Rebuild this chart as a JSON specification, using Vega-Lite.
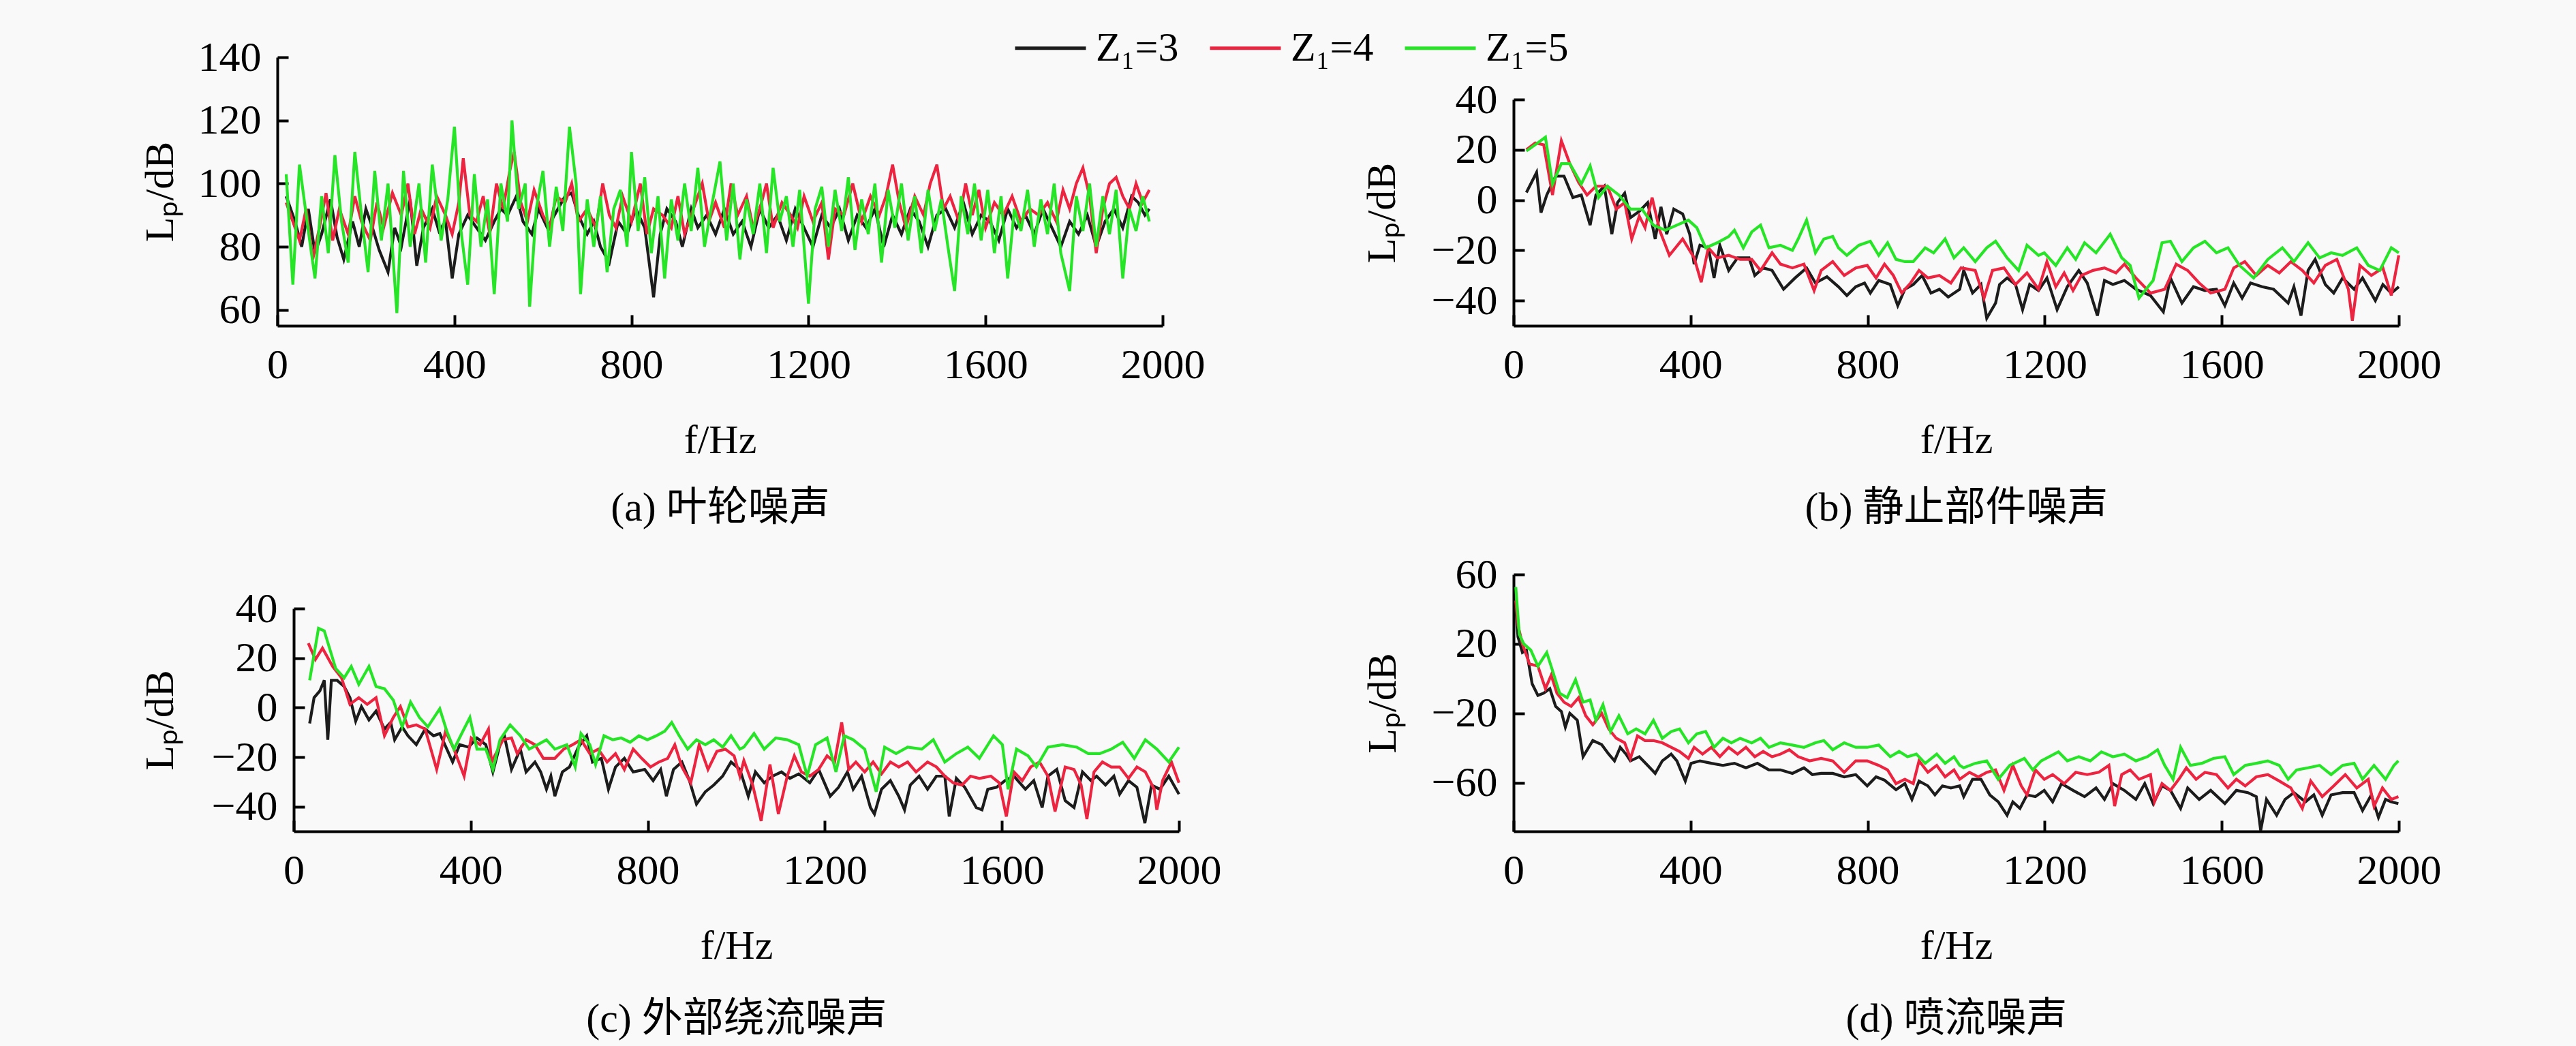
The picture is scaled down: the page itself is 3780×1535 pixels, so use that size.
{
  "$schema": "https://vega.github.io/schema/vega-lite/v6.json",
  "width": 3780,
  "height": 1535,
  "autosize": {"type": "none"},
  "padding": 0,
  "background": "#f9f9f9",
  "data": {
    "values": [
      {"p":"a","s":3,"f":20,"v":96},{"p":"a","s":3,"f":40,"v":88},{"p":"a","s":3,"f":55,"v":80},{"p":"a","s":3,"f":70,"v":92},{"p":"a","s":3,"f":85,"v":78},{"p":"a","s":3,"f":100,"v":84},{"p":"a","s":3,"f":120,"v":95},{"p":"a","s":3,"f":135,"v":83},{"p":"a","s":3,"f":150,"v":76},{"p":"a","s":3,"f":170,"v":88},
      {"p":"a","s":3,"f":185,"v":80},{"p":"a","s":3,"f":200,"v":92},{"p":"a","s":3,"f":215,"v":86},{"p":"a","s":3,"f":230,"v":79},{"p":"a","s":3,"f":250,"v":72},{"p":"a","s":3,"f":265,"v":86},{"p":"a","s":3,"f":280,"v":80},{"p":"a","s":3,"f":300,"v":95},{"p":"a","s":3,"f":315,"v":74},{"p":"a","s":3,"f":330,"v":86},
      {"p":"a","s":3,"f":350,"v":92},{"p":"a","s":3,"f":365,"v":85},{"p":"a","s":3,"f":380,"v":88},{"p":"a","s":3,"f":395,"v":70},{"p":"a","s":3,"f":410,"v":84},{"p":"a","s":3,"f":430,"v":90},{"p":"a","s":3,"f":450,"v":86},{"p":"a","s":3,"f":470,"v":82},{"p":"a","s":3,"f":490,"v":88},{"p":"a","s":3,"f":505,"v":92},
      {"p":"a","s":3,"f":520,"v":90},{"p":"a","s":3,"f":540,"v":96},{"p":"a","s":3,"f":555,"v":88},{"p":"a","s":3,"f":575,"v":84},{"p":"a","s":3,"f":590,"v":92},{"p":"a","s":3,"f":610,"v":86},{"p":"a","s":3,"f":630,"v":91},{"p":"a","s":3,"f":650,"v":96},{"p":"a","s":3,"f":665,"v":97},{"p":"a","s":3,"f":680,"v":90},
      {"p":"a","s":3,"f":700,"v":84},{"p":"a","s":3,"f":715,"v":88},{"p":"a","s":3,"f":730,"v":80},{"p":"a","s":3,"f":750,"v":75},{"p":"a","s":3,"f":770,"v":88},{"p":"a","s":3,"f":790,"v":84},{"p":"a","s":3,"f":810,"v":92},{"p":"a","s":3,"f":830,"v":86},{"p":"a","s":3,"f":850,"v":64},{"p":"a","s":3,"f":865,"v":84},
      {"p":"a","s":3,"f":880,"v":92},{"p":"a","s":3,"f":900,"v":88},{"p":"a","s":3,"f":915,"v":80},{"p":"a","s":3,"f":935,"v":92},{"p":"a","s":3,"f":950,"v":86},{"p":"a","s":3,"f":970,"v":90},{"p":"a","s":3,"f":990,"v":84},{"p":"a","s":3,"f":1010,"v":92},{"p":"a","s":3,"f":1030,"v":84},{"p":"a","s":3,"f":1050,"v":88},
      {"p":"a","s":3,"f":1070,"v":80},{"p":"a","s":3,"f":1090,"v":92},{"p":"a","s":3,"f":1110,"v":86},{"p":"a","s":3,"f":1130,"v":90},{"p":"a","s":3,"f":1150,"v":82},{"p":"a","s":3,"f":1170,"v":92},{"p":"a","s":3,"f":1190,"v":86},{"p":"a","s":3,"f":1210,"v":80},{"p":"a","s":3,"f":1230,"v":90},{"p":"a","s":3,"f":1250,"v":86},
      {"p":"a","s":3,"f":1270,"v":92},{"p":"a","s":3,"f":1290,"v":82},{"p":"a","s":3,"f":1310,"v":90},{"p":"a","s":3,"f":1330,"v":86},{"p":"a","s":3,"f":1350,"v":92},{"p":"a","s":3,"f":1370,"v":80},{"p":"a","s":3,"f":1390,"v":90},{"p":"a","s":3,"f":1410,"v":84},{"p":"a","s":3,"f":1430,"v":92},{"p":"a","s":3,"f":1450,"v":88},
      {"p":"a","s":3,"f":1470,"v":80},{"p":"a","s":3,"f":1490,"v":90},{"p":"a","s":3,"f":1510,"v":92},{"p":"a","s":3,"f":1530,"v":86},{"p":"a","s":3,"f":1550,"v":94},{"p":"a","s":3,"f":1570,"v":84},{"p":"a","s":3,"f":1590,"v":90},{"p":"a","s":3,"f":1610,"v":88},{"p":"a","s":3,"f":1630,"v":82},{"p":"a","s":3,"f":1650,"v":92},
      {"p":"a","s":3,"f":1670,"v":86},{"p":"a","s":3,"f":1690,"v":90},{"p":"a","s":3,"f":1710,"v":84},{"p":"a","s":3,"f":1730,"v":92},{"p":"a","s":3,"f":1750,"v":86},{"p":"a","s":3,"f":1770,"v":80},{"p":"a","s":3,"f":1790,"v":88},{"p":"a","s":3,"f":1810,"v":84},{"p":"a","s":3,"f":1830,"v":90},{"p":"a","s":3,"f":1850,"v":80},
      {"p":"a","s":3,"f":1870,"v":88},{"p":"a","s":3,"f":1890,"v":92},{"p":"a","s":3,"f":1910,"v":86},{"p":"a","s":3,"f":1930,"v":96},{"p":"a","s":3,"f":1945,"v":94},{"p":"a","s":3,"f":1960,"v":90},{"p":"a","s":3,"f":1970,"v":92},

      {"p":"a","s":4,"f":20,"v":94},{"p":"a","s":4,"f":35,"v":88},{"p":"a","s":4,"f":50,"v":82},{"p":"a","s":4,"f":65,"v":92},{"p":"a","s":4,"f":80,"v":76},{"p":"a","s":4,"f":95,"v":86},{"p":"a","s":4,"f":110,"v":97},{"p":"a","s":4,"f":125,"v":82},{"p":"a","s":4,"f":140,"v":92},{"p":"a","s":4,"f":160,"v":84},
      {"p":"a","s":4,"f":175,"v":96},{"p":"a","s":4,"f":190,"v":88},{"p":"a","s":4,"f":210,"v":82},{"p":"a","s":4,"f":225,"v":94},{"p":"a","s":4,"f":240,"v":86},{"p":"a","s":4,"f":260,"v":97},{"p":"a","s":4,"f":280,"v":90},{"p":"a","s":4,"f":295,"v":100},{"p":"a","s":4,"f":310,"v":84},{"p":"a","s":4,"f":325,"v":92},
      {"p":"a","s":4,"f":345,"v":86},{"p":"a","s":4,"f":360,"v":96},{"p":"a","s":4,"f":380,"v":90},{"p":"a","s":4,"f":395,"v":84},{"p":"a","s":4,"f":410,"v":94},{"p":"a","s":4,"f":420,"v":108},{"p":"a","s":4,"f":435,"v":90},{"p":"a","s":4,"f":450,"v":88},{"p":"a","s":4,"f":465,"v":96},{"p":"a","s":4,"f":480,"v":84},
      {"p":"a","s":4,"f":495,"v":100},{"p":"a","s":4,"f":510,"v":92},{"p":"a","s":4,"f":525,"v":104},{"p":"a","s":4,"f":535,"v":110},{"p":"a","s":4,"f":550,"v":94},{"p":"a","s":4,"f":565,"v":88},{"p":"a","s":4,"f":580,"v":98},{"p":"a","s":4,"f":600,"v":90},{"p":"a","s":4,"f":615,"v":86},{"p":"a","s":4,"f":630,"v":96},
      {"p":"a","s":4,"f":650,"v":94},{"p":"a","s":4,"f":665,"v":100},{"p":"a","s":4,"f":680,"v":88},{"p":"a","s":4,"f":700,"v":92},{"p":"a","s":4,"f":720,"v":86},{"p":"a","s":4,"f":735,"v":100},{"p":"a","s":4,"f":750,"v":90},{"p":"a","s":4,"f":765,"v":86},{"p":"a","s":4,"f":780,"v":96},{"p":"a","s":4,"f":800,"v":88},
      {"p":"a","s":4,"f":820,"v":100},{"p":"a","s":4,"f":835,"v":84},{"p":"a","s":4,"f":850,"v":92},{"p":"a","s":4,"f":870,"v":90},{"p":"a","s":4,"f":890,"v":86},{"p":"a","s":4,"f":905,"v":96},{"p":"a","s":4,"f":920,"v":84},{"p":"a","s":4,"f":940,"v":92},{"p":"a","s":4,"f":960,"v":100},{"p":"a","s":4,"f":975,"v":88},
      {"p":"a","s":4,"f":990,"v":94},{"p":"a","s":4,"f":1010,"v":86},{"p":"a","s":4,"f":1025,"v":100},{"p":"a","s":4,"f":1040,"v":90},{"p":"a","s":4,"f":1060,"v":96},{"p":"a","s":4,"f":1075,"v":86},{"p":"a","s":4,"f":1090,"v":92},{"p":"a","s":4,"f":1105,"v":100},{"p":"a","s":4,"f":1120,"v":86},{"p":"a","s":4,"f":1140,"v":94},
      {"p":"a","s":4,"f":1160,"v":90},{"p":"a","s":4,"f":1175,"v":86},{"p":"a","s":4,"f":1190,"v":96},{"p":"a","s":4,"f":1210,"v":88},{"p":"a","s":4,"f":1230,"v":94},{"p":"a","s":4,"f":1245,"v":76},{"p":"a","s":4,"f":1260,"v":92},{"p":"a","s":4,"f":1280,"v":90},{"p":"a","s":4,"f":1300,"v":100},{"p":"a","s":4,"f":1320,"v":88},
      {"p":"a","s":4,"f":1340,"v":96},{"p":"a","s":4,"f":1360,"v":90},{"p":"a","s":4,"f":1375,"v":96},{"p":"a","s":4,"f":1390,"v":106},{"p":"a","s":4,"f":1405,"v":94},{"p":"a","s":4,"f":1420,"v":86},{"p":"a","s":4,"f":1440,"v":96},{"p":"a","s":4,"f":1460,"v":90},{"p":"a","s":4,"f":1475,"v":100},{"p":"a","s":4,"f":1490,"v":106},
      {"p":"a","s":4,"f":1505,"v":92},{"p":"a","s":4,"f":1520,"v":96},{"p":"a","s":4,"f":1540,"v":88},{"p":"a","s":4,"f":1555,"v":100},{"p":"a","s":4,"f":1570,"v":90},{"p":"a","s":4,"f":1585,"v":98},{"p":"a","s":4,"f":1600,"v":86},{"p":"a","s":4,"f":1620,"v":94},{"p":"a","s":4,"f":1640,"v":90},{"p":"a","s":4,"f":1660,"v":96},
      {"p":"a","s":4,"f":1680,"v":88},{"p":"a","s":4,"f":1700,"v":92},{"p":"a","s":4,"f":1720,"v":90},{"p":"a","s":4,"f":1740,"v":94},{"p":"a","s":4,"f":1760,"v":88},{"p":"a","s":4,"f":1775,"v":98},{"p":"a","s":4,"f":1790,"v":92},{"p":"a","s":4,"f":1805,"v":100},{"p":"a","s":4,"f":1820,"v":105},{"p":"a","s":4,"f":1835,"v":96},
      {"p":"a","s":4,"f":1850,"v":78},{"p":"a","s":4,"f":1865,"v":92},{"p":"a","s":4,"f":1880,"v":100},{"p":"a","s":4,"f":1895,"v":102},{"p":"a","s":4,"f":1910,"v":96},{"p":"a","s":4,"f":1925,"v":92},{"p":"a","s":4,"f":1940,"v":100},{"p":"a","s":4,"f":1955,"v":94},{"p":"a","s":4,"f":1970,"v":98},

      {"p":"a","s":5,"f":20,"v":103},{"p":"a","s":5,"f":35,"v":68},{"p":"a","s":5,"f":50,"v":106},{"p":"a","s":5,"f":70,"v":85},{"p":"a","s":5,"f":85,"v":70},{"p":"a","s":5,"f":100,"v":96},{"p":"a","s":5,"f":115,"v":78},{"p":"a","s":5,"f":130,"v":109},{"p":"a","s":5,"f":145,"v":88},{"p":"a","s":5,"f":160,"v":75},
      {"p":"a","s":5,"f":175,"v":110},{"p":"a","s":5,"f":190,"v":90},{"p":"a","s":5,"f":205,"v":72},{"p":"a","s":5,"f":220,"v":104},{"p":"a","s":5,"f":235,"v":82},{"p":"a","s":5,"f":250,"v":100},{"p":"a","s":5,"f":270,"v":59},{"p":"a","s":5,"f":285,"v":104},{"p":"a","s":5,"f":300,"v":80},{"p":"a","s":5,"f":320,"v":100},
      {"p":"a","s":5,"f":335,"v":75},{"p":"a","s":5,"f":350,"v":106},{"p":"a","s":5,"f":370,"v":82},{"p":"a","s":5,"f":385,"v":95},{"p":"a","s":5,"f":400,"v":118},{"p":"a","s":5,"f":415,"v":85},{"p":"a","s":5,"f":430,"v":68},{"p":"a","s":5,"f":445,"v":103},{"p":"a","s":5,"f":460,"v":80},{"p":"a","s":5,"f":475,"v":95},
      {"p":"a","s":5,"f":490,"v":65},{"p":"a","s":5,"f":505,"v":100},{"p":"a","s":5,"f":520,"v":88},{"p":"a","s":5,"f":530,"v":120},{"p":"a","s":5,"f":545,"v":92},{"p":"a","s":5,"f":560,"v":100},{"p":"a","s":5,"f":570,"v":61},{"p":"a","s":5,"f":585,"v":92},{"p":"a","s":5,"f":600,"v":104},{"p":"a","s":5,"f":615,"v":80},
      {"p":"a","s":5,"f":630,"v":99},{"p":"a","s":5,"f":645,"v":85},{"p":"a","s":5,"f":660,"v":118},{"p":"a","s":5,"f":675,"v":100},{"p":"a","s":5,"f":685,"v":65},{"p":"a","s":5,"f":700,"v":95},{"p":"a","s":5,"f":715,"v":80},{"p":"a","s":5,"f":730,"v":96},{"p":"a","s":5,"f":745,"v":72},{"p":"a","s":5,"f":760,"v":92},
      {"p":"a","s":5,"f":775,"v":98},{"p":"a","s":5,"f":790,"v":80},{"p":"a","s":5,"f":800,"v":110},{"p":"a","s":5,"f":815,"v":85},{"p":"a","s":5,"f":830,"v":102},{"p":"a","s":5,"f":845,"v":78},{"p":"a","s":5,"f":860,"v":96},{"p":"a","s":5,"f":875,"v":70},{"p":"a","s":5,"f":890,"v":95},{"p":"a","s":5,"f":905,"v":82},
      {"p":"a","s":5,"f":920,"v":100},{"p":"a","s":5,"f":935,"v":85},{"p":"a","s":5,"f":950,"v":105},{"p":"a","s":5,"f":965,"v":80},{"p":"a","s":5,"f":980,"v":92},{"p":"a","s":5,"f":1000,"v":107},{"p":"a","s":5,"f":1015,"v":82},{"p":"a","s":5,"f":1030,"v":100},{"p":"a","s":5,"f":1045,"v":76},{"p":"a","s":5,"f":1060,"v":95},
      {"p":"a","s":5,"f":1075,"v":84},{"p":"a","s":5,"f":1090,"v":100},{"p":"a","s":5,"f":1105,"v":78},{"p":"a","s":5,"f":1120,"v":105},{"p":"a","s":5,"f":1135,"v":88},{"p":"a","s":5,"f":1150,"v":96},{"p":"a","s":5,"f":1165,"v":80},{"p":"a","s":5,"f":1180,"v":98},{"p":"a","s":5,"f":1200,"v":62},{"p":"a","s":5,"f":1215,"v":92},
      {"p":"a","s":5,"f":1230,"v":99},{"p":"a","s":5,"f":1245,"v":80},{"p":"a","s":5,"f":1260,"v":98},{"p":"a","s":5,"f":1275,"v":85},{"p":"a","s":5,"f":1290,"v":102},{"p":"a","s":5,"f":1305,"v":79},{"p":"a","s":5,"f":1320,"v":95},{"p":"a","s":5,"f":1335,"v":84},{"p":"a","s":5,"f":1350,"v":100},{"p":"a","s":5,"f":1365,"v":75},
      {"p":"a","s":5,"f":1380,"v":98},{"p":"a","s":5,"f":1395,"v":86},{"p":"a","s":5,"f":1410,"v":100},{"p":"a","s":5,"f":1425,"v":82},{"p":"a","s":5,"f":1440,"v":96},{"p":"a","s":5,"f":1455,"v":78},{"p":"a","s":5,"f":1470,"v":98},{"p":"a","s":5,"f":1485,"v":85},{"p":"a","s":5,"f":1500,"v":95},{"p":"a","s":5,"f":1515,"v":80},
      {"p":"a","s":5,"f":1530,"v":66},{"p":"a","s":5,"f":1545,"v":96},{"p":"a","s":5,"f":1560,"v":84},{"p":"a","s":5,"f":1575,"v":100},{"p":"a","s":5,"f":1590,"v":82},{"p":"a","s":5,"f":1605,"v":98},{"p":"a","s":5,"f":1620,"v":78},{"p":"a","s":5,"f":1635,"v":96},{"p":"a","s":5,"f":1650,"v":70},{"p":"a","s":5,"f":1665,"v":92},
      {"p":"a","s":5,"f":1680,"v":85},{"p":"a","s":5,"f":1695,"v":98},{"p":"a","s":5,"f":1710,"v":80},{"p":"a","s":5,"f":1725,"v":95},{"p":"a","s":5,"f":1740,"v":84},{"p":"a","s":5,"f":1755,"v":100},{"p":"a","s":5,"f":1770,"v":78},{"p":"a","s":5,"f":1790,"v":66},{"p":"a","s":5,"f":1805,"v":96},{"p":"a","s":5,"f":1820,"v":85},
      {"p":"a","s":5,"f":1835,"v":100},{"p":"a","s":5,"f":1850,"v":80},{"p":"a","s":5,"f":1865,"v":96},{"p":"a","s":5,"f":1880,"v":84},{"p":"a","s":5,"f":1895,"v":98},{"p":"a","s":5,"f":1910,"v":70},{"p":"a","s":5,"f":1925,"v":92},{"p":"a","s":5,"f":1940,"v":85},{"p":"a","s":5,"f":1955,"v":96},{"p":"a","s":5,"f":1970,"v":88},

      {"p":"b","s":3,"f":29,"v":3},{"p":"b","s":3,"f":52,"v":11},{"p":"b","s":3,"f":62,"v":-5},{"p":"b","s":3,"f":75,"v":2},{"p":"b","s":3,"f":95,"v":9.5},{"p":"b","s":3,"f":114,"v":9.5},{"p":"b","s":3,"f":134,"v":1},{"p":"b","s":3,"f":153,"v":2},{"p":"b","s":3,"f":173,"v":-10},{"p":"b","s":3,"f":186,"v":2},
      {"p":"b","s":3,"f":205,"v":5.5},{"p":"b","s":3,"f":222,"v":-13.6},{"p":"b","s":3,"f":235,"v":-1},{"p":"b","s":3,"f":251,"v":2.7},{"p":"b","s":3,"f":264,"v":-7},{"p":"b","s":3,"f":284,"v":-4.5},{"p":"b","s":3,"f":303,"v":-1},{"p":"b","s":3,"f":320,"v":-15.5},{"p":"b","s":3,"f":333,"v":-2.7},{"p":"b","s":3,"f":346,"v":-13.6},
      {"p":"b","s":3,"f":362,"v":-3.6},{"p":"b","s":3,"f":382,"v":-5.5},{"p":"b","s":3,"f":398,"v":-13.6},{"p":"b","s":3,"f":408,"v":-25.5},{"p":"b","s":3,"f":421,"v":-18},{"p":"b","s":3,"f":440,"v":-19},{"p":"b","s":3,"f":453,"v":-31},{"p":"b","s":3,"f":466,"v":-18},{"p":"b","s":3,"f":486,"v":-28},{"p":"b","s":3,"f":506,"v":-23},
      {"p":"b","s":3,"f":532,"v":-23},{"p":"b","s":3,"f":545,"v":-30},{"p":"b","s":3,"f":564,"v":-27},{"p":"b","s":3,"f":584,"v":-28},{"p":"b","s":3,"f":610,"v":-35.5},{"p":"b","s":3,"f":636,"v":-31},{"p":"b","s":3,"f":662,"v":-27},{"p":"b","s":3,"f":682,"v":-33},{"p":"b","s":3,"f":708,"v":-30.5},{"p":"b","s":3,"f":734,"v":-34.5},
      {"p":"b","s":3,"f":753,"v":-38},{"p":"b","s":3,"f":773,"v":-34.5},{"p":"b","s":3,"f":793,"v":-33},{"p":"b","s":3,"f":806,"v":-37},{"p":"b","s":3,"f":825,"v":-32},{"p":"b","s":3,"f":851,"v":-33.6},{"p":"b","s":3,"f":868,"v":-42},{"p":"b","s":3,"f":884,"v":-35.5},{"p":"b","s":3,"f":903,"v":-33.6},{"p":"b","s":3,"f":923,"v":-30},
      {"p":"b","s":3,"f":943,"v":-37},{"p":"b","s":3,"f":962,"v":-35.5},{"p":"b","s":3,"f":982,"v":-38.6},{"p":"b","s":3,"f":1008,"v":-35.5},{"p":"b","s":3,"f":1017,"v":-28},{"p":"b","s":3,"f":1037,"v":-37},{"p":"b","s":3,"f":1056,"v":-33.6},{"p":"b","s":3,"f":1069,"v":-47},{"p":"b","s":3,"f":1089,"v":-41},{"p":"b","s":3,"f":1098,"v":-33.6},
      {"p":"b","s":3,"f":1115,"v":-31},{"p":"b","s":3,"f":1134,"v":-33.6},{"p":"b","s":3,"f":1150,"v":-43.6},{"p":"b","s":3,"f":1166,"v":-33.6},{"p":"b","s":3,"f":1186,"v":-36},{"p":"b","s":3,"f":1205,"v":-31},{"p":"b","s":3,"f":1228,"v":-43.6},{"p":"b","s":3,"f":1251,"v":-34.5},{"p":"b","s":3,"f":1277,"v":-28},{"p":"b","s":3,"f":1296,"v":-33},
      {"p":"b","s":3,"f":1319,"v":-46},{"p":"b","s":3,"f":1335,"v":-32},{"p":"b","s":3,"f":1354,"v":-33.6},{"p":"b","s":3,"f":1380,"v":-32},{"p":"b","s":3,"f":1406,"v":-35.5},{"p":"b","s":3,"f":1439,"v":-38},{"p":"b","s":3,"f":1468,"v":-44.5},{"p":"b","s":3,"f":1484,"v":-31},{"p":"b","s":3,"f":1510,"v":-41},{"p":"b","s":3,"f":1536,"v":-34.5},
      {"p":"b","s":3,"f":1562,"v":-36},{"p":"b","s":3,"f":1588,"v":-35.5},{"p":"b","s":3,"f":1607,"v":-42},{"p":"b","s":3,"f":1627,"v":-33},{"p":"b","s":3,"f":1646,"v":-39},{"p":"b","s":3,"f":1665,"v":-33},{"p":"b","s":3,"f":1691,"v":-34.5},{"p":"b","s":3,"f":1717,"v":-35.5},{"p":"b","s":3,"f":1750,"v":-41},{"p":"b","s":3,"f":1763,"v":-34.5},
      {"p":"b","s":3,"f":1779,"v":-46},{"p":"b","s":3,"f":1795,"v":-28},{"p":"b","s":3,"f":1811,"v":-23.6},{"p":"b","s":3,"f":1834,"v":-33.6},{"p":"b","s":3,"f":1853,"v":-37},{"p":"b","s":3,"f":1873,"v":-31},{"p":"b","s":3,"f":1899,"v":-35.5},{"p":"b","s":3,"f":1918,"v":-31},{"p":"b","s":3,"f":1947,"v":-40},{"p":"b","s":3,"f":1964,"v":-33.6},
      {"p":"b","s":3,"f":1983,"v":-37},{"p":"b","s":3,"f":2000,"v":-34.5},

      {"p":"b","s":4,"f":29,"v":20},{"p":"b","s":4,"f":49,"v":22.7},{"p":"b","s":4,"f":68,"v":22},{"p":"b","s":4,"f":88,"v":2},{"p":"b","s":4,"f":108,"v":23.6},{"p":"b","s":4,"f":127,"v":14.5},{"p":"b","s":4,"f":147,"v":7},{"p":"b","s":4,"f":166,"v":2},{"p":"b","s":4,"f":186,"v":5.5},{"p":"b","s":4,"f":212,"v":5.5},
      {"p":"b","s":4,"f":232,"v":-3.6},{"p":"b","s":4,"f":251,"v":-1},{"p":"b","s":4,"f":267,"v":-15.5},{"p":"b","s":4,"f":284,"v":-6.4},{"p":"b","s":4,"f":297,"v":-11},{"p":"b","s":4,"f":313,"v":1},{"p":"b","s":4,"f":330,"v":-12},{"p":"b","s":4,"f":352,"v":-22},{"p":"b","s":4,"f":382,"v":-15.5},{"p":"b","s":4,"f":408,"v":-23},
      {"p":"b","s":4,"f":424,"v":-32.7},{"p":"b","s":4,"f":440,"v":-19},{"p":"b","s":4,"f":460,"v":-23},{"p":"b","s":4,"f":486,"v":-22},{"p":"b","s":4,"f":512,"v":-23.6},{"p":"b","s":4,"f":538,"v":-23.6},{"p":"b","s":4,"f":558,"v":-28},{"p":"b","s":4,"f":584,"v":-21},{"p":"b","s":4,"f":603,"v":-25.5},{"p":"b","s":4,"f":630,"v":-27},
      {"p":"b","s":4,"f":656,"v":-25.5},{"p":"b","s":4,"f":679,"v":-36},{"p":"b","s":4,"f":695,"v":-28},{"p":"b","s":4,"f":721,"v":-24.5},{"p":"b","s":4,"f":747,"v":-30},{"p":"b","s":4,"f":773,"v":-27},{"p":"b","s":4,"f":799,"v":-26},{"p":"b","s":4,"f":819,"v":-31},{"p":"b","s":4,"f":838,"v":-25.5},{"p":"b","s":4,"f":858,"v":-30},
      {"p":"b","s":4,"f":877,"v":-37},{"p":"b","s":4,"f":897,"v":-33},{"p":"b","s":4,"f":916,"v":-28},{"p":"b","s":4,"f":936,"v":-31},{"p":"b","s":4,"f":962,"v":-30},{"p":"b","s":4,"f":988,"v":-33},{"p":"b","s":4,"f":1011,"v":-27},{"p":"b","s":4,"f":1043,"v":-28},{"p":"b","s":4,"f":1063,"v":-39},{"p":"b","s":4,"f":1082,"v":-28},
      {"p":"b","s":4,"f":1108,"v":-27},{"p":"b","s":4,"f":1134,"v":-33.6},{"p":"b","s":4,"f":1160,"v":-29},{"p":"b","s":4,"f":1186,"v":-35.5},{"p":"b","s":4,"f":1205,"v":-24.5},{"p":"b","s":4,"f":1225,"v":-34.5},{"p":"b","s":4,"f":1244,"v":-29},{"p":"b","s":4,"f":1264,"v":-36},{"p":"b","s":4,"f":1283,"v":-30},{"p":"b","s":4,"f":1309,"v":-28},
      {"p":"b","s":4,"f":1335,"v":-27},{"p":"b","s":4,"f":1361,"v":-29},{"p":"b","s":4,"f":1380,"v":-25.5},{"p":"b","s":4,"f":1406,"v":-31},{"p":"b","s":4,"f":1439,"v":-37},{"p":"b","s":4,"f":1471,"v":-35.5},{"p":"b","s":4,"f":1497,"v":-25.5},{"p":"b","s":4,"f":1523,"v":-28},{"p":"b","s":4,"f":1549,"v":-33},{"p":"b","s":4,"f":1575,"v":-37},
      {"p":"b","s":4,"f":1607,"v":-35.5},{"p":"b","s":4,"f":1627,"v":-27},{"p":"b","s":4,"f":1652,"v":-24.5},{"p":"b","s":4,"f":1678,"v":-30},{"p":"b","s":4,"f":1704,"v":-26},{"p":"b","s":4,"f":1730,"v":-29},{"p":"b","s":4,"f":1756,"v":-24.5},{"p":"b","s":4,"f":1782,"v":-28},{"p":"b","s":4,"f":1808,"v":-33},{"p":"b","s":4,"f":1834,"v":-26},
      {"p":"b","s":4,"f":1860,"v":-23.6},{"p":"b","s":4,"f":1886,"v":-35.5},{"p":"b","s":4,"f":1895,"v":-48},{"p":"b","s":4,"f":1912,"v":-26},{"p":"b","s":4,"f":1938,"v":-30},{"p":"b","s":4,"f":1964,"v":-27},{"p":"b","s":4,"f":1983,"v":-38},{"p":"b","s":4,"f":2000,"v":-22},

      {"p":"b","s":5,"f":29,"v":19.5},{"p":"b","s":5,"f":49,"v":22},{"p":"b","s":5,"f":72,"v":25},{"p":"b","s":5,"f":88,"v":6.4},{"p":"b","s":5,"f":108,"v":14.5},{"p":"b","s":5,"f":127,"v":14.5},{"p":"b","s":5,"f":153,"v":6.4},{"p":"b","s":5,"f":173,"v":13.6},{"p":"b","s":5,"f":192,"v":1},{"p":"b","s":5,"f":212,"v":5.5},
      {"p":"b","s":5,"f":238,"v":2},{"p":"b","s":5,"f":264,"v":-3.6},{"p":"b","s":5,"f":290,"v":-3.6},{"p":"b","s":5,"f":316,"v":-10},{"p":"b","s":5,"f":343,"v":-12},{"p":"b","s":5,"f":369,"v":-10},{"p":"b","s":5,"f":395,"v":-8},{"p":"b","s":5,"f":414,"v":-11},{"p":"b","s":5,"f":434,"v":-19},{"p":"b","s":5,"f":460,"v":-17},
      {"p":"b","s":5,"f":486,"v":-14.5},{"p":"b","s":5,"f":499,"v":-12},{"p":"b","s":5,"f":519,"v":-19},{"p":"b","s":5,"f":538,"v":-12.7},{"p":"b","s":5,"f":558,"v":-10},{"p":"b","s":5,"f":577,"v":-19},{"p":"b","s":5,"f":603,"v":-18},{"p":"b","s":5,"f":630,"v":-20},{"p":"b","s":5,"f":643,"v":-15.5},{"p":"b","s":5,"f":662,"v":-8},
      {"p":"b","s":5,"f":682,"v":-21},{"p":"b","s":5,"f":701,"v":-15.5},{"p":"b","s":5,"f":721,"v":-14.5},{"p":"b","s":5,"f":734,"v":-19},{"p":"b","s":5,"f":753,"v":-22},{"p":"b","s":5,"f":780,"v":-18},{"p":"b","s":5,"f":806,"v":-16.4},{"p":"b","s":5,"f":825,"v":-22},{"p":"b","s":5,"f":845,"v":-17},{"p":"b","s":5,"f":864,"v":-23.6},
      {"p":"b","s":5,"f":884,"v":-24.5},{"p":"b","s":5,"f":903,"v":-24.5},{"p":"b","s":5,"f":930,"v":-19},{"p":"b","s":5,"f":949,"v":-21},{"p":"b","s":5,"f":975,"v":-15.5},{"p":"b","s":5,"f":995,"v":-23},{"p":"b","s":5,"f":1017,"v":-19},{"p":"b","s":5,"f":1043,"v":-24.5},{"p":"b","s":5,"f":1069,"v":-19},{"p":"b","s":5,"f":1089,"v":-16.4},
      {"p":"b","s":5,"f":1115,"v":-23},{"p":"b","s":5,"f":1141,"v":-28},{"p":"b","s":5,"f":1160,"v":-18},{"p":"b","s":5,"f":1186,"v":-22},{"p":"b","s":5,"f":1199,"v":-21},{"p":"b","s":5,"f":1225,"v":-26},{"p":"b","s":5,"f":1251,"v":-19},{"p":"b","s":5,"f":1270,"v":-23.6},{"p":"b","s":5,"f":1290,"v":-17},{"p":"b","s":5,"f":1316,"v":-21},
      {"p":"b","s":5,"f":1348,"v":-13.6},{"p":"b","s":5,"f":1374,"v":-23},{"p":"b","s":5,"f":1393,"v":-26},{"p":"b","s":5,"f":1413,"v":-39},{"p":"b","s":5,"f":1445,"v":-32},{"p":"b","s":5,"f":1465,"v":-17},{"p":"b","s":5,"f":1484,"v":-16.4},{"p":"b","s":5,"f":1510,"v":-24.5},{"p":"b","s":5,"f":1536,"v":-19},{"p":"b","s":5,"f":1562,"v":-16.4},
      {"p":"b","s":5,"f":1588,"v":-21},{"p":"b","s":5,"f":1614,"v":-19},{"p":"b","s":5,"f":1640,"v":-26},{"p":"b","s":5,"f":1672,"v":-31},{"p":"b","s":5,"f":1704,"v":-23.6},{"p":"b","s":5,"f":1737,"v":-19},{"p":"b","s":5,"f":1763,"v":-24.5},{"p":"b","s":5,"f":1795,"v":-17},{"p":"b","s":5,"f":1821,"v":-23},{"p":"b","s":5,"f":1847,"v":-21},
      {"p":"b","s":5,"f":1873,"v":-22},{"p":"b","s":5,"f":1905,"v":-19},{"p":"b","s":5,"f":1931,"v":-26},{"p":"b","s":5,"f":1957,"v":-28},{"p":"b","s":5,"f":1983,"v":-19},{"p":"b","s":5,"f":2000,"v":-21},

      {"p":"c","s":3,"f":36,"v":-6.4},{"p":"c","s":3,"f":46,"v":4},{"p":"c","s":3,"f":59,"v":6.7},{"p":"c","s":3,"f":69,"v":11},{"p":"c","s":3,"f":77,"v":-13},{"p":"c","s":3,"f":85,"v":11},{"p":"c","s":3,"f":98,"v":11},{"p":"c","s":3,"f":114,"v":8.5},{"p":"c","s":3,"f":127,"v":4},{"p":"c","s":3,"f":140,"v":-5.5},
      {"p":"c","s":3,"f":153,"v":0.4},{"p":"c","s":3,"f":170,"v":-5},{"p":"c","s":3,"f":186,"v":-1.4},{"p":"c","s":3,"f":205,"v":-8.7},{"p":"c","s":3,"f":219,"v":-6},{"p":"c","s":3,"f":228,"v":-13},{"p":"c","s":3,"f":245,"v":-7.8},{"p":"c","s":3,"f":258,"v":-11.4},{"p":"c","s":3,"f":277,"v":-15},{"p":"c","s":3,"f":297,"v":-8.7},
      {"p":"c","s":3,"f":316,"v":-11.4},{"p":"c","s":3,"f":330,"v":-10.5},{"p":"c","s":3,"f":346,"v":-16.8},{"p":"c","s":3,"f":359,"v":-22},{"p":"c","s":3,"f":375,"v":-15},{"p":"c","s":3,"f":395,"v":-16},{"p":"c","s":3,"f":414,"v":-12.3},{"p":"c","s":3,"f":434,"v":-15},{"p":"c","s":3,"f":450,"v":-26},{"p":"c","s":3,"f":466,"v":-15},
      {"p":"c","s":3,"f":476,"v":-11.4},{"p":"c","s":3,"f":492,"v":-25},{"p":"c","s":3,"f":512,"v":-16.8},{"p":"c","s":3,"f":525,"v":-26},{"p":"c","s":3,"f":545,"v":-22},{"p":"c","s":3,"f":558,"v":-26},{"p":"c","s":3,"f":571,"v":-33},{"p":"c","s":3,"f":581,"v":-27.7},{"p":"c","s":3,"f":590,"v":-35.8},{"p":"c","s":3,"f":607,"v":-26},
      {"p":"c","s":3,"f":623,"v":-24},{"p":"c","s":3,"f":643,"v":-16},{"p":"c","s":3,"f":662,"v":-11.4},{"p":"c","s":3,"f":675,"v":-22},{"p":"c","s":3,"f":695,"v":-20.5},{"p":"c","s":3,"f":711,"v":-33},{"p":"c","s":3,"f":727,"v":-24},{"p":"c","s":3,"f":747,"v":-20.5},{"p":"c","s":3,"f":767,"v":-26},{"p":"c","s":3,"f":793,"v":-25},
      {"p":"c","s":3,"f":812,"v":-29.5},{"p":"c","s":3,"f":829,"v":-25},{"p":"c","s":3,"f":842,"v":-35.8},{"p":"c","s":3,"f":858,"v":-25},{"p":"c","s":3,"f":877,"v":-22},{"p":"c","s":3,"f":894,"v":-29.5},{"p":"c","s":3,"f":910,"v":-39},{"p":"c","s":3,"f":930,"v":-34},{"p":"c","s":3,"f":949,"v":-31.3},{"p":"c","s":3,"f":969,"v":-27.7},
      {"p":"c","s":3,"f":988,"v":-22},{"p":"c","s":3,"f":1008,"v":-25},{"p":"c","s":3,"f":1027,"v":-35.8},{"p":"c","s":3,"f":1043,"v":-26},{"p":"c","s":3,"f":1063,"v":-30.4},{"p":"c","s":3,"f":1082,"v":-27.7},{"p":"c","s":3,"f":1102,"v":-26},{"p":"c","s":3,"f":1121,"v":-28.6},{"p":"c","s":3,"f":1141,"v":-26.8},{"p":"c","s":3,"f":1166,"v":-30.4},
      {"p":"c","s":3,"f":1186,"v":-25},{"p":"c","s":3,"f":1212,"v":-35.8},{"p":"c","s":3,"f":1231,"v":-32.2},{"p":"c","s":3,"f":1251,"v":-26},{"p":"c","s":3,"f":1264,"v":-33},{"p":"c","s":3,"f":1283,"v":-27.7},{"p":"c","s":3,"f":1303,"v":-40.4},{"p":"c","s":3,"f":1312,"v":-43},{"p":"c","s":3,"f":1328,"v":-33},{"p":"c","s":3,"f":1348,"v":-29.5},
      {"p":"c","s":3,"f":1367,"v":-35.8},{"p":"c","s":3,"f":1380,"v":-41.3},{"p":"c","s":3,"f":1393,"v":-31.3},{"p":"c","s":3,"f":1413,"v":-27.7},{"p":"c","s":3,"f":1432,"v":-33},{"p":"c","s":3,"f":1452,"v":-27.7},{"p":"c","s":3,"f":1471,"v":-27.7},{"p":"c","s":3,"f":1481,"v":-44},{"p":"c","s":3,"f":1497,"v":-28.6},{"p":"c","s":3,"f":1516,"v":-32.2},
      {"p":"c","s":3,"f":1542,"v":-40.4},{"p":"c","s":3,"f":1555,"v":-41.3},{"p":"c","s":3,"f":1568,"v":-33},{"p":"c","s":3,"f":1588,"v":-32.2},{"p":"c","s":3,"f":1607,"v":-29.5},{"p":"c","s":3,"f":1627,"v":-27.7},{"p":"c","s":3,"f":1653,"v":-33},{"p":"c","s":3,"f":1672,"v":-29.5},{"p":"c","s":3,"f":1691,"v":-40.4},{"p":"c","s":3,"f":1704,"v":-27.7},
      {"p":"c","s":3,"f":1724,"v":-25},{"p":"c","s":3,"f":1743,"v":-37.6},{"p":"c","s":3,"f":1763,"v":-40.4},{"p":"c","s":3,"f":1782,"v":-26},{"p":"c","s":3,"f":1801,"v":-29.5},{"p":"c","s":3,"f":1814,"v":-27.7},{"p":"c","s":3,"f":1834,"v":-31.3},{"p":"c","s":3,"f":1853,"v":-27.7},{"p":"c","s":3,"f":1866,"v":-35},{"p":"c","s":3,"f":1886,"v":-29.5},
      {"p":"c","s":3,"f":1905,"v":-32.2},{"p":"c","s":3,"f":1923,"v":-46.7},{"p":"c","s":3,"f":1938,"v":-31.3},{"p":"c","s":3,"f":1957,"v":-33},{"p":"c","s":3,"f":1977,"v":-27.7},{"p":"c","s":3,"f":2000,"v":-35},

      {"p":"c","s":4,"f":33,"v":26},{"p":"c","s":4,"f":49,"v":19.4},{"p":"c","s":4,"f":65,"v":24},{"p":"c","s":4,"f":88,"v":16.6},{"p":"c","s":4,"f":108,"v":12},{"p":"c","s":4,"f":127,"v":1.3},{"p":"c","s":4,"f":147,"v":4},{"p":"c","s":4,"f":166,"v":1.3},{"p":"c","s":4,"f":186,"v":4},{"p":"c","s":4,"f":205,"v":-11.4},
      {"p":"c","s":4,"f":225,"v":-4},{"p":"c","s":4,"f":241,"v":0.4},{"p":"c","s":4,"f":258,"v":-7.8},{"p":"c","s":4,"f":277,"v":-7},{"p":"c","s":4,"f":297,"v":-8.7},{"p":"c","s":4,"f":323,"v":-25},{"p":"c","s":4,"f":343,"v":-9.6},{"p":"c","s":4,"f":362,"v":-16.8},{"p":"c","s":4,"f":385,"v":-27.7},{"p":"c","s":4,"f":401,"v":-12.3},
      {"p":"c","s":4,"f":421,"v":-15},{"p":"c","s":4,"f":440,"v":-8.7},{"p":"c","s":4,"f":447,"v":-22},{"p":"c","s":4,"f":473,"v":-13},{"p":"c","s":4,"f":492,"v":-12.3},{"p":"c","s":4,"f":505,"v":-18.6},{"p":"c","s":4,"f":525,"v":-13},{"p":"c","s":4,"f":545,"v":-15},{"p":"c","s":4,"f":564,"v":-20.5},{"p":"c","s":4,"f":590,"v":-20.5},
      {"p":"c","s":4,"f":610,"v":-16.8},{"p":"c","s":4,"f":630,"v":-15},{"p":"c","s":4,"f":649,"v":-13},{"p":"c","s":4,"f":669,"v":-18.6},{"p":"c","s":4,"f":688,"v":-16.8},{"p":"c","s":4,"f":708,"v":-22},{"p":"c","s":4,"f":727,"v":-18.6},{"p":"c","s":4,"f":747,"v":-25},{"p":"c","s":4,"f":767,"v":-16.8},{"p":"c","s":4,"f":786,"v":-20.5},
      {"p":"c","s":4,"f":806,"v":-24},{"p":"c","s":4,"f":825,"v":-22},{"p":"c","s":4,"f":845,"v":-20.5},{"p":"c","s":4,"f":861,"v":-15},{"p":"c","s":4,"f":877,"v":-24},{"p":"c","s":4,"f":897,"v":-30.4},{"p":"c","s":4,"f":916,"v":-15},{"p":"c","s":4,"f":936,"v":-25},{"p":"c","s":4,"f":956,"v":-17.7},{"p":"c","s":4,"f":975,"v":-16.8},
      {"p":"c","s":4,"f":995,"v":-19.5},{"p":"c","s":4,"f":1008,"v":-27.7},{"p":"c","s":4,"f":1017,"v":-21.4},{"p":"c","s":4,"f":1037,"v":-31.3},{"p":"c","s":4,"f":1056,"v":-45.8},{"p":"c","s":4,"f":1076,"v":-23},{"p":"c","s":4,"f":1095,"v":-43},{"p":"c","s":4,"f":1115,"v":-27.7},{"p":"c","s":4,"f":1131,"v":-19.5},{"p":"c","s":4,"f":1147,"v":-26},
      {"p":"c","s":4,"f":1166,"v":-27.7},{"p":"c","s":4,"f":1186,"v":-25},{"p":"c","s":4,"f":1205,"v":-19.5},{"p":"c","s":4,"f":1222,"v":-22},{"p":"c","s":4,"f":1238,"v":-6},{"p":"c","s":4,"f":1254,"v":-25},{"p":"c","s":4,"f":1270,"v":-22},{"p":"c","s":4,"f":1290,"v":-26},{"p":"c","s":4,"f":1309,"v":-22},{"p":"c","s":4,"f":1328,"v":-26.8},
      {"p":"c","s":4,"f":1348,"v":-22},{"p":"c","s":4,"f":1367,"v":-24},{"p":"c","s":4,"f":1387,"v":-22},{"p":"c","s":4,"f":1406,"v":-26},{"p":"c","s":4,"f":1432,"v":-22},{"p":"c","s":4,"f":1452,"v":-24},{"p":"c","s":4,"f":1471,"v":-27.7},{"p":"c","s":4,"f":1490,"v":-30.4},{"p":"c","s":4,"f":1510,"v":-31.3},{"p":"c","s":4,"f":1529,"v":-27.7},
      {"p":"c","s":4,"f":1549,"v":-28.6},{"p":"c","s":4,"f":1575,"v":-27.7},{"p":"c","s":4,"f":1594,"v":-30.4},{"p":"c","s":4,"f":1610,"v":-44},{"p":"c","s":4,"f":1627,"v":-26},{"p":"c","s":4,"f":1646,"v":-29.5},{"p":"c","s":4,"f":1665,"v":-24},{"p":"c","s":4,"f":1685,"v":-22},{"p":"c","s":4,"f":1704,"v":-27.7},{"p":"c","s":4,"f":1720,"v":-42},
      {"p":"c","s":4,"f":1743,"v":-24},{"p":"c","s":4,"f":1763,"v":-25},{"p":"c","s":4,"f":1779,"v":-31.3},{"p":"c","s":4,"f":1792,"v":-45},{"p":"c","s":4,"f":1808,"v":-26},{"p":"c","s":4,"f":1827,"v":-22},{"p":"c","s":4,"f":1847,"v":-24},{"p":"c","s":4,"f":1866,"v":-24},{"p":"c","s":4,"f":1886,"v":-28.6},{"p":"c","s":4,"f":1905,"v":-24},
      {"p":"c","s":4,"f":1924,"v":-26},{"p":"c","s":4,"f":1944,"v":-33},{"p":"c","s":4,"f":1950,"v":-41.3},{"p":"c","s":4,"f":1963,"v":-29.5},{"p":"c","s":4,"f":1983,"v":-22},{"p":"c","s":4,"f":2000,"v":-30.4},

      {"p":"c","s":5,"f":36,"v":11},{"p":"c","s":5,"f":56,"v":32},{"p":"c","s":5,"f":69,"v":31},{"p":"c","s":5,"f":95,"v":15.7},{"p":"c","s":5,"f":114,"v":12},{"p":"c","s":5,"f":130,"v":16.6},{"p":"c","s":5,"f":147,"v":9.4},{"p":"c","s":5,"f":170,"v":16.6},{"p":"c","s":5,"f":186,"v":8.5},{"p":"c","s":5,"f":205,"v":7.6},
      {"p":"c","s":5,"f":225,"v":3},{"p":"c","s":5,"f":245,"v":-7.8},{"p":"c","s":5,"f":264,"v":2.2},{"p":"c","s":5,"f":284,"v":-4},{"p":"c","s":5,"f":303,"v":-7.8},{"p":"c","s":5,"f":330,"v":-0.5},{"p":"c","s":5,"f":346,"v":-9.6},{"p":"c","s":5,"f":362,"v":-16.8},{"p":"c","s":5,"f":382,"v":-9.6},{"p":"c","s":5,"f":398,"v":-4},
      {"p":"c","s":5,"f":414,"v":-16.8},{"p":"c","s":5,"f":434,"v":-16.8},{"p":"c","s":5,"f":450,"v":-25},{"p":"c","s":5,"f":466,"v":-13},{"p":"c","s":5,"f":489,"v":-7},{"p":"c","s":5,"f":512,"v":-11.4},{"p":"c","s":5,"f":532,"v":-16.8},{"p":"c","s":5,"f":551,"v":-15},{"p":"c","s":5,"f":571,"v":-13},{"p":"c","s":5,"f":590,"v":-16.8},
      {"p":"c","s":5,"f":617,"v":-15},{"p":"c","s":5,"f":636,"v":-24},{"p":"c","s":5,"f":649,"v":-10.5},{"p":"c","s":5,"f":669,"v":-15},{"p":"c","s":5,"f":682,"v":-23},{"p":"c","s":5,"f":701,"v":-11.4},{"p":"c","s":5,"f":721,"v":-13},{"p":"c","s":5,"f":740,"v":-12.3},{"p":"c","s":5,"f":760,"v":-14},{"p":"c","s":5,"f":780,"v":-11.4},
      {"p":"c","s":5,"f":799,"v":-13},{"p":"c","s":5,"f":819,"v":-11.4},{"p":"c","s":5,"f":838,"v":-9.6},{"p":"c","s":5,"f":854,"v":-6},{"p":"c","s":5,"f":871,"v":-11.4},{"p":"c","s":5,"f":890,"v":-16.8},{"p":"c","s":5,"f":910,"v":-13},{"p":"c","s":5,"f":930,"v":-15},{"p":"c","s":5,"f":949,"v":-13},{"p":"c","s":5,"f":969,"v":-16},
      {"p":"c","s":5,"f":988,"v":-11.4},{"p":"c","s":5,"f":1008,"v":-16.8},{"p":"c","s":5,"f":1017,"v":-16},{"p":"c","s":5,"f":1040,"v":-10.5},{"p":"c","s":5,"f":1063,"v":-16.8},{"p":"c","s":5,"f":1089,"v":-12.3},{"p":"c","s":5,"f":1115,"v":-13},{"p":"c","s":5,"f":1141,"v":-15},{"p":"c","s":5,"f":1160,"v":-27.7},{"p":"c","s":5,"f":1179,"v":-15},
      {"p":"c","s":5,"f":1205,"v":-12.3},{"p":"c","s":5,"f":1225,"v":-26},{"p":"c","s":5,"f":1244,"v":-11.4},{"p":"c","s":5,"f":1264,"v":-13},{"p":"c","s":5,"f":1290,"v":-16.8},{"p":"c","s":5,"f":1316,"v":-34},{"p":"c","s":5,"f":1335,"v":-16},{"p":"c","s":5,"f":1361,"v":-18.6},{"p":"c","s":5,"f":1387,"v":-16},{"p":"c","s":5,"f":1419,"v":-16.8},
      {"p":"c","s":5,"f":1445,"v":-13},{"p":"c","s":5,"f":1471,"v":-22},{"p":"c","s":5,"f":1497,"v":-18.6},{"p":"c","s":5,"f":1523,"v":-16},{"p":"c","s":5,"f":1549,"v":-20.5},{"p":"c","s":5,"f":1581,"v":-11.4},{"p":"c","s":5,"f":1601,"v":-15},{"p":"c","s":5,"f":1614,"v":-33},{"p":"c","s":5,"f":1633,"v":-16.8},{"p":"c","s":5,"f":1659,"v":-19.5},
      {"p":"c","s":5,"f":1678,"v":-24},{"p":"c","s":5,"f":1704,"v":-16},{"p":"c","s":5,"f":1737,"v":-15},{"p":"c","s":5,"f":1769,"v":-16},{"p":"c","s":5,"f":1795,"v":-18.6},{"p":"c","s":5,"f":1821,"v":-18.6},{"p":"c","s":5,"f":1847,"v":-16.8},{"p":"c","s":5,"f":1873,"v":-14},{"p":"c","s":5,"f":1899,"v":-20.5},{"p":"c","s":5,"f":1924,"v":-13},
      {"p":"c","s":5,"f":1950,"v":-16.8},{"p":"c","s":5,"f":1977,"v":-22},{"p":"c","s":5,"f":2000,"v":-16},

      {"p":"d","s":3,"f":5,"v":41},{"p":"d","s":3,"f":10,"v":24},{"p":"d","s":3,"f":20,"v":15},{"p":"d","s":3,"f":29,"v":16.4},{"p":"d","s":3,"f":42,"v":-3},{"p":"d","s":3,"f":55,"v":-9.7},{"p":"d","s":3,"f":68,"v":-8.4},{"p":"d","s":3,"f":82,"v":-5.8},{"p":"d","s":3,"f":95,"v":-16},{"p":"d","s":3,"f":108,"v":-19},
      {"p":"d","s":3,"f":117,"v":-28},{"p":"d","s":3,"f":127,"v":-20},{"p":"d","s":3,"f":144,"v":-24},{"p":"d","s":3,"f":157,"v":-45},{"p":"d","s":3,"f":179,"v":-35.7},{"p":"d","s":3,"f":199,"v":-38},{"p":"d","s":3,"f":215,"v":-43.5},{"p":"d","s":3,"f":228,"v":-47.4},{"p":"d","s":3,"f":241,"v":-39.6},{"p":"d","s":3,"f":254,"v":-43.5},
      {"p":"d","s":3,"f":264,"v":-47.4},{"p":"d","s":3,"f":284,"v":-45},{"p":"d","s":3,"f":303,"v":-50},{"p":"d","s":3,"f":320,"v":-54.6},{"p":"d","s":3,"f":336,"v":-47.4},{"p":"d","s":3,"f":356,"v":-43.5},{"p":"d","s":3,"f":369,"v":-47.4},{"p":"d","s":3,"f":388,"v":-59},{"p":"d","s":3,"f":401,"v":-48.8},{"p":"d","s":3,"f":421,"v":-47.4},
      {"p":"d","s":3,"f":447,"v":-48.8},{"p":"d","s":3,"f":473,"v":-50},{"p":"d","s":3,"f":499,"v":-48.8},{"p":"d","s":3,"f":525,"v":-51.4},{"p":"d","s":3,"f":551,"v":-48.8},{"p":"d","s":3,"f":577,"v":-52.6},{"p":"d","s":3,"f":603,"v":-52.6},{"p":"d","s":3,"f":630,"v":-54.6},{"p":"d","s":3,"f":656,"v":-51.4},{"p":"d","s":3,"f":675,"v":-55.3},
      {"p":"d","s":3,"f":695,"v":-54.6},{"p":"d","s":3,"f":721,"v":-54.6},{"p":"d","s":3,"f":747,"v":-56.6},{"p":"d","s":3,"f":773,"v":-55.3},{"p":"d","s":3,"f":799,"v":-61.8},{"p":"d","s":3,"f":819,"v":-56.6},{"p":"d","s":3,"f":838,"v":-58.5},{"p":"d","s":3,"f":864,"v":-64},{"p":"d","s":3,"f":884,"v":-60.5},{"p":"d","s":3,"f":900,"v":-69.6},
      {"p":"d","s":3,"f":916,"v":-59},{"p":"d","s":3,"f":936,"v":-61.8},{"p":"d","s":3,"f":952,"v":-67},{"p":"d","s":3,"f":969,"v":-61.8},{"p":"d","s":3,"f":988,"v":-63},{"p":"d","s":3,"f":1008,"v":-61.8},{"p":"d","s":3,"f":1017,"v":-68},{"p":"d","s":3,"f":1037,"v":-58},{"p":"d","s":3,"f":1056,"v":-58},{"p":"d","s":3,"f":1076,"v":-67},
      {"p":"d","s":3,"f":1095,"v":-71},{"p":"d","s":3,"f":1115,"v":-78.7},{"p":"d","s":3,"f":1128,"v":-71},{"p":"d","s":3,"f":1144,"v":-74.8},{"p":"d","s":3,"f":1160,"v":-67},{"p":"d","s":3,"f":1179,"v":-68},{"p":"d","s":3,"f":1199,"v":-64.4},{"p":"d","s":3,"f":1218,"v":-71},{"p":"d","s":3,"f":1238,"v":-60.5},{"p":"d","s":3,"f":1264,"v":-64.4},
      {"p":"d","s":3,"f":1290,"v":-68},{"p":"d","s":3,"f":1316,"v":-63},{"p":"d","s":3,"f":1335,"v":-69.6},{"p":"d","s":3,"f":1354,"v":-60.5},{"p":"d","s":3,"f":1380,"v":-64.4},{"p":"d","s":3,"f":1406,"v":-69.6},{"p":"d","s":3,"f":1426,"v":-60.5},{"p":"d","s":3,"f":1445,"v":-72},{"p":"d","s":3,"f":1465,"v":-61.8},{"p":"d","s":3,"f":1484,"v":-64.4},
      {"p":"d","s":3,"f":1507,"v":-74.8},{"p":"d","s":3,"f":1523,"v":-63},{"p":"d","s":3,"f":1549,"v":-69.6},{"p":"d","s":3,"f":1575,"v":-64.4},{"p":"d","s":3,"f":1607,"v":-72},{"p":"d","s":3,"f":1633,"v":-64.4},{"p":"d","s":3,"f":1659,"v":-65.7},{"p":"d","s":3,"f":1678,"v":-68},{"p":"d","s":3,"f":1688,"v":-87.5},{"p":"d","s":3,"f":1701,"v":-69.6},
      {"p":"d","s":3,"f":1724,"v":-78.7},{"p":"d","s":3,"f":1743,"v":-69.6},{"p":"d","s":3,"f":1763,"v":-65.7},{"p":"d","s":3,"f":1789,"v":-71},{"p":"d","s":3,"f":1808,"v":-67},{"p":"d","s":3,"f":1827,"v":-78.7},{"p":"d","s":3,"f":1847,"v":-67},{"p":"d","s":3,"f":1873,"v":-65.7},{"p":"d","s":3,"f":1899,"v":-65.7},{"p":"d","s":3,"f":1918,"v":-76},
      {"p":"d","s":3,"f":1938,"v":-67},{"p":"d","s":3,"f":1954,"v":-80},{"p":"d","s":3,"f":1970,"v":-69.6},{"p":"d","s":3,"f":1983,"v":-71},{"p":"d","s":3,"f":1999,"v":-72},

      {"p":"d","s":4,"f":5,"v":45},{"p":"d","s":4,"f":10,"v":30.7},{"p":"d","s":4,"f":20,"v":20},{"p":"d","s":4,"f":36,"v":8.5},{"p":"d","s":4,"f":55,"v":7.2},{"p":"d","s":4,"f":72,"v":-5.8},{"p":"d","s":4,"f":85,"v":2},{"p":"d","s":4,"f":98,"v":-8.4},{"p":"d","s":4,"f":114,"v":-13.6},{"p":"d","s":4,"f":130,"v":-16},
      {"p":"d","s":4,"f":147,"v":-11},{"p":"d","s":4,"f":163,"v":-21.4},{"p":"d","s":4,"f":179,"v":-26.6},{"p":"d","s":4,"f":199,"v":-20},{"p":"d","s":4,"f":215,"v":-29},{"p":"d","s":4,"f":232,"v":-34.4},{"p":"d","s":4,"f":251,"v":-37},{"p":"d","s":4,"f":264,"v":-46},{"p":"d","s":4,"f":280,"v":-33},{"p":"d","s":4,"f":297,"v":-35.7},
      {"p":"d","s":4,"f":316,"v":-35.7},{"p":"d","s":4,"f":336,"v":-37},{"p":"d","s":4,"f":356,"v":-39.6},{"p":"d","s":4,"f":375,"v":-42},{"p":"d","s":4,"f":395,"v":-46},{"p":"d","s":4,"f":408,"v":-39.6},{"p":"d","s":4,"f":427,"v":-43.5},{"p":"d","s":4,"f":447,"v":-39.6},{"p":"d","s":4,"f":466,"v":-45},{"p":"d","s":4,"f":486,"v":-39.6},
      {"p":"d","s":4,"f":506,"v":-43.5},{"p":"d","s":4,"f":525,"v":-39.6},{"p":"d","s":4,"f":545,"v":-45},{"p":"d","s":4,"f":564,"v":-42},{"p":"d","s":4,"f":584,"v":-45},{"p":"d","s":4,"f":603,"v":-43.5},{"p":"d","s":4,"f":623,"v":-41},{"p":"d","s":4,"f":643,"v":-45},{"p":"d","s":4,"f":669,"v":-47.4},{"p":"d","s":4,"f":695,"v":-46},
      {"p":"d","s":4,"f":721,"v":-47.4},{"p":"d","s":4,"f":747,"v":-54},{"p":"d","s":4,"f":773,"v":-47.4},{"p":"d","s":4,"f":799,"v":-47.4},{"p":"d","s":4,"f":825,"v":-50},{"p":"d","s":4,"f":845,"v":-52.6},{"p":"d","s":4,"f":864,"v":-60.5},{"p":"d","s":4,"f":884,"v":-58},{"p":"d","s":4,"f":903,"v":-60.5},{"p":"d","s":4,"f":916,"v":-47.4},
      {"p":"d","s":4,"f":936,"v":-54},{"p":"d","s":4,"f":956,"v":-50},{"p":"d","s":4,"f":975,"v":-56.6},{"p":"d","s":4,"f":995,"v":-52.6},{"p":"d","s":4,"f":1008,"v":-58},{"p":"d","s":4,"f":1030,"v":-54},{"p":"d","s":4,"f":1050,"v":-56.6},{"p":"d","s":4,"f":1069,"v":-54},{"p":"d","s":4,"f":1089,"v":-52.6},{"p":"d","s":4,"f":1108,"v":-64.4},
      {"p":"d","s":4,"f":1128,"v":-50},{"p":"d","s":4,"f":1147,"v":-61.8},{"p":"d","s":4,"f":1160,"v":-67},{"p":"d","s":4,"f":1179,"v":-52.6},{"p":"d","s":4,"f":1199,"v":-58},{"p":"d","s":4,"f":1218,"v":-55.3},{"p":"d","s":4,"f":1244,"v":-60.5},{"p":"d","s":4,"f":1270,"v":-54},{"p":"d","s":4,"f":1296,"v":-55.3},{"p":"d","s":4,"f":1322,"v":-54},
      {"p":"d","s":4,"f":1345,"v":-50},{"p":"d","s":4,"f":1358,"v":-73.5},{"p":"d","s":4,"f":1374,"v":-55.3},{"p":"d","s":4,"f":1393,"v":-52.6},{"p":"d","s":4,"f":1413,"v":-58},{"p":"d","s":4,"f":1439,"v":-55.3},{"p":"d","s":4,"f":1448,"v":-71},{"p":"d","s":4,"f":1465,"v":-60.5},{"p":"d","s":4,"f":1484,"v":-64.4},{"p":"d","s":4,"f":1503,"v":-58},
      {"p":"d","s":4,"f":1520,"v":-51.4},{"p":"d","s":4,"f":1542,"v":-58},{"p":"d","s":4,"f":1562,"v":-54},{"p":"d","s":4,"f":1588,"v":-55.3},{"p":"d","s":4,"f":1614,"v":-63},{"p":"d","s":4,"f":1633,"v":-58},{"p":"d","s":4,"f":1653,"v":-61.8},{"p":"d","s":4,"f":1678,"v":-56.6},{"p":"d","s":4,"f":1704,"v":-55.3},{"p":"d","s":4,"f":1730,"v":-59},
      {"p":"d","s":4,"f":1756,"v":-63},{"p":"d","s":4,"f":1782,"v":-74.8},{"p":"d","s":4,"f":1801,"v":-59},{"p":"d","s":4,"f":1827,"v":-68},{"p":"d","s":4,"f":1853,"v":-61.8},{"p":"d","s":4,"f":1879,"v":-55.3},{"p":"d","s":4,"f":1905,"v":-63},{"p":"d","s":4,"f":1931,"v":-58},{"p":"d","s":4,"f":1944,"v":-73.5},{"p":"d","s":4,"f":1963,"v":-63},
      {"p":"d","s":4,"f":1983,"v":-69.6},{"p":"d","s":4,"f":1999,"v":-68},

      {"p":"d","s":5,"f":5,"v":52.8},{"p":"d","s":5,"f":13,"v":25.5},{"p":"d","s":5,"f":23,"v":20},{"p":"d","s":5,"f":39,"v":16.4},{"p":"d","s":5,"f":55,"v":7.2},{"p":"d","s":5,"f":75,"v":15},{"p":"d","s":5,"f":88,"v":4.6},{"p":"d","s":5,"f":104,"v":-8.4},{"p":"d","s":5,"f":121,"v":-11},{"p":"d","s":5,"f":140,"v":-0.6},
      {"p":"d","s":5,"f":157,"v":-13.6},{"p":"d","s":5,"f":173,"v":-12.3},{"p":"d","s":5,"f":186,"v":-24},{"p":"d","s":5,"f":202,"v":-15},{"p":"d","s":5,"f":219,"v":-30.5},{"p":"d","s":5,"f":238,"v":-21.4},{"p":"d","s":5,"f":258,"v":-31.8},{"p":"d","s":5,"f":277,"v":-29},{"p":"d","s":5,"f":297,"v":-31.8},{"p":"d","s":5,"f":316,"v":-24},
      {"p":"d","s":5,"f":336,"v":-34.4},{"p":"d","s":5,"f":356,"v":-30.5},{"p":"d","s":5,"f":375,"v":-29},{"p":"d","s":5,"f":395,"v":-37},{"p":"d","s":5,"f":414,"v":-31.8},{"p":"d","s":5,"f":434,"v":-30.5},{"p":"d","s":5,"f":453,"v":-39.6},{"p":"d","s":5,"f":473,"v":-34.4},{"p":"d","s":5,"f":492,"v":-37},{"p":"d","s":5,"f":512,"v":-34.4},
      {"p":"d","s":5,"f":538,"v":-37},{"p":"d","s":5,"f":558,"v":-34.4},{"p":"d","s":5,"f":577,"v":-39.6},{"p":"d","s":5,"f":603,"v":-37},{"p":"d","s":5,"f":630,"v":-38.3},{"p":"d","s":5,"f":656,"v":-39.6},{"p":"d","s":5,"f":682,"v":-37},{"p":"d","s":5,"f":701,"v":-35.7},{"p":"d","s":5,"f":721,"v":-41},{"p":"d","s":5,"f":747,"v":-37},
      {"p":"d","s":5,"f":773,"v":-39.6},{"p":"d","s":5,"f":799,"v":-39.6},{"p":"d","s":5,"f":825,"v":-38.3},{"p":"d","s":5,"f":851,"v":-45},{"p":"d","s":5,"f":871,"v":-42},{"p":"d","s":5,"f":890,"v":-45},{"p":"d","s":5,"f":910,"v":-43.5},{"p":"d","s":5,"f":930,"v":-48.8},{"p":"d","s":5,"f":956,"v":-43.5},{"p":"d","s":5,"f":975,"v":-48.8},
      {"p":"d","s":5,"f":995,"v":-45},{"p":"d","s":5,"f":1008,"v":-50},{"p":"d","s":5,"f":1017,"v":-51.4},{"p":"d","s":5,"f":1043,"v":-48.8},{"p":"d","s":5,"f":1069,"v":-47.4},{"p":"d","s":5,"f":1095,"v":-58},{"p":"d","s":5,"f":1121,"v":-50},{"p":"d","s":5,"f":1154,"v":-46},{"p":"d","s":5,"f":1173,"v":-52.6},{"p":"d","s":5,"f":1192,"v":-47.4},
      {"p":"d","s":5,"f":1231,"v":-42.2},{"p":"d","s":5,"f":1251,"v":-47.4},{"p":"d","s":5,"f":1277,"v":-45},{"p":"d","s":5,"f":1303,"v":-47.4},{"p":"d","s":5,"f":1328,"v":-42.2},{"p":"d","s":5,"f":1354,"v":-45},{"p":"d","s":5,"f":1380,"v":-43.5},{"p":"d","s":5,"f":1406,"v":-47.4},{"p":"d","s":5,"f":1432,"v":-45},{"p":"d","s":5,"f":1455,"v":-41},
      {"p":"d","s":5,"f":1471,"v":-50},{"p":"d","s":5,"f":1490,"v":-58},{"p":"d","s":5,"f":1507,"v":-39.6},{"p":"d","s":5,"f":1529,"v":-50},{"p":"d","s":5,"f":1555,"v":-48.8},{"p":"d","s":5,"f":1581,"v":-46},{"p":"d","s":5,"f":1607,"v":-45},{"p":"d","s":5,"f":1627,"v":-55.3},{"p":"d","s":5,"f":1653,"v":-50},{"p":"d","s":5,"f":1678,"v":-48.8},
      {"p":"d","s":5,"f":1704,"v":-47.4},{"p":"d","s":5,"f":1730,"v":-50},{"p":"d","s":5,"f":1750,"v":-58},{"p":"d","s":5,"f":1769,"v":-52.6},{"p":"d","s":5,"f":1795,"v":-51.4},{"p":"d","s":5,"f":1821,"v":-50},{"p":"d","s":5,"f":1847,"v":-55.3},{"p":"d","s":5,"f":1873,"v":-50},{"p":"d","s":5,"f":1899,"v":-48.8},{"p":"d","s":5,"f":1918,"v":-58},
      {"p":"d","s":5,"f":1944,"v":-50},{"p":"d","s":5,"f":1970,"v":-58},{"p":"d","s":5,"f":1989,"v":-50},{"p":"d","s":5,"f":1999,"v":-47.4}
    ]
  },
  "encoding": {
    "color": {
      "field": "s",
      "type": "nominal",
      "scale": {"domain": [3, 4, 5], "range": ["#1c1c1c", "#ec2440", "#26e426"]},
      "legend": {
        "orient": "none",
        "legendX": 1487,
        "legendY": 16,
        "direction": "horizontal",
        "title": null,
        "padding": 0,
        "symbolType": "stroke",
        "symbolSize": 10816,
        "symbolStrokeWidth": 5,
        "labelFont": "Liberation Serif",
        "labelFontSize": 60,
        "labelColor": "#000000",
        "labelOffset": 12,
        "columnPadding": 35,
        "labelExpr": "'Z₁=' + datum.label"
      }
    }
  },
  "layer": [
    {
      "transform": [{"filter": "datum.p === 'a'"}],
      "mark": {"type": "line", "strokeWidth": 4.2, "clip": false},
      "encoding": {
        "x": {
          "field": "f", "type": "quantitative",
          "scale": {"domain": [0, 2000], "range": [407, 1706], "nice": false, "zero": false},
          "axis": {"orient": "bottom", "offset": -1057, "values": [0, 400, 800, 1200, 1600, 2000], "format": "d",
                   "title": ["f/Hz", "(a) 叶轮噪声"], "titleY": 139, "titleLineHeight": 99}
        },
        "y": {
          "field": "v", "type": "quantitative",
          "scale": {"domain": [55, 140], "range": [478, 84], "nice": false, "zero": false},
          "axis": {"orient": "left", "offset": -407, "values": [60, 80, 100, 120, 140], "format": "d",
                   "title": "Lₚ/dB", "titleX": -172}
        }
      }
    },
    {
      "transform": [{"filter": "datum.p === 'b'"}],
      "mark": {"type": "line", "strokeWidth": 4.2, "clip": false},
      "encoding": {
        "x": {
          "field": "f", "type": "quantitative",
          "scale": {"domain": [0, 2000], "range": [2221, 3520], "nice": false, "zero": false},
          "axis": {"orient": "bottom", "offset": -1057, "values": [0, 400, 800, 1200, 1600, 2000], "format": "d",
                   "title": ["f/Hz", "(b) 静止部件噪声"], "titleY": 139, "titleLineHeight": 99}
        },
        "y": {
          "field": "v", "type": "quantitative",
          "scale": {"domain": [-50, 40], "range": [478, 146], "nice": false, "zero": false},
          "axis": {"orient": "left", "offset": -2221, "values": [-40, -20, 0, 20, 40], "format": "d",
                   "title": "Lₚ/dB", "titleX": -193}
        }
      }
    },
    {
      "transform": [{"filter": "datum.p === 'c'"}],
      "mark": {"type": "line", "strokeWidth": 4.2, "clip": false},
      "encoding": {
        "x": {
          "field": "f", "type": "quantitative",
          "scale": {"domain": [0, 2000], "range": [431, 1730], "nice": false, "zero": false},
          "axis": {"orient": "bottom", "offset": -315, "values": [0, 400, 800, 1200, 1600, 2000], "format": "d",
                   "title": ["f/Hz", "(c) 外部绕流噪声"], "titleY": 139, "titleLineHeight": 107}
        },
        "y": {
          "field": "v", "type": "quantitative",
          "scale": {"domain": [-50, 40], "range": [1220, 893], "nice": false, "zero": false},
          "axis": {"orient": "left", "offset": -431, "values": [-40, -20, 0, 20, 40], "format": "d",
                   "title": "Lₚ/dB", "titleX": -196}
        }
      }
    },
    {
      "transform": [{"filter": "datum.p === 'd'"}],
      "mark": {"type": "line", "strokeWidth": 4.2, "clip": false},
      "encoding": {
        "x": {
          "field": "f", "type": "quantitative",
          "scale": {"domain": [0, 2000], "range": [2221, 3520], "nice": false, "zero": false},
          "axis": {"orient": "bottom", "offset": -315, "values": [0, 400, 800, 1200, 1600, 2000], "format": "d",
                   "title": ["f/Hz", "(d) 喷流噪声"], "titleY": 139, "titleLineHeight": 107}
        },
        "y": {
          "field": "v", "type": "quantitative",
          "scale": {"domain": [-88, 60], "range": [1220, 843], "nice": false, "zero": false},
          "axis": {"orient": "left", "offset": -2221, "values": [-60, -20, 20, 60], "format": "d",
                   "title": "Lₚ/dB", "titleX": -192}
        }
      }
    }
  ],
  "resolve": {
    "scale": {"x": "independent", "y": "independent", "color": "shared"},
    "axis": {"x": "independent", "y": "independent"}
  },
  "config": {
    "view": {"stroke": null},
    "font": "Liberation Serif",
    "axis": {
      "grid": false,
      "domainColor": "#000000",
      "domainWidth": 4,
      "tickColor": "#000000",
      "tickWidth": 4,
      "tickSize": -16,
      "labelFont": "Liberation Serif",
      "labelFontSize": 62,
      "labelColor": "#000000",
      "labelFlush": false,
      "labelOverlap": false,
      "titleFont": "Liberation Serif, Noto Sans CJK SC",
      "titleFontSize": 60,
      "titleFontWeight": "normal",
      "titleColor": "#000000"
    },
    "axisX": {"labelPadding": 43, "titleBaseline": "top", "titleAngle": 0},
    "axisY": {"labelPadding": 40, "titleAngle": -90, "titleBaseline": "middle"}
  }
}
